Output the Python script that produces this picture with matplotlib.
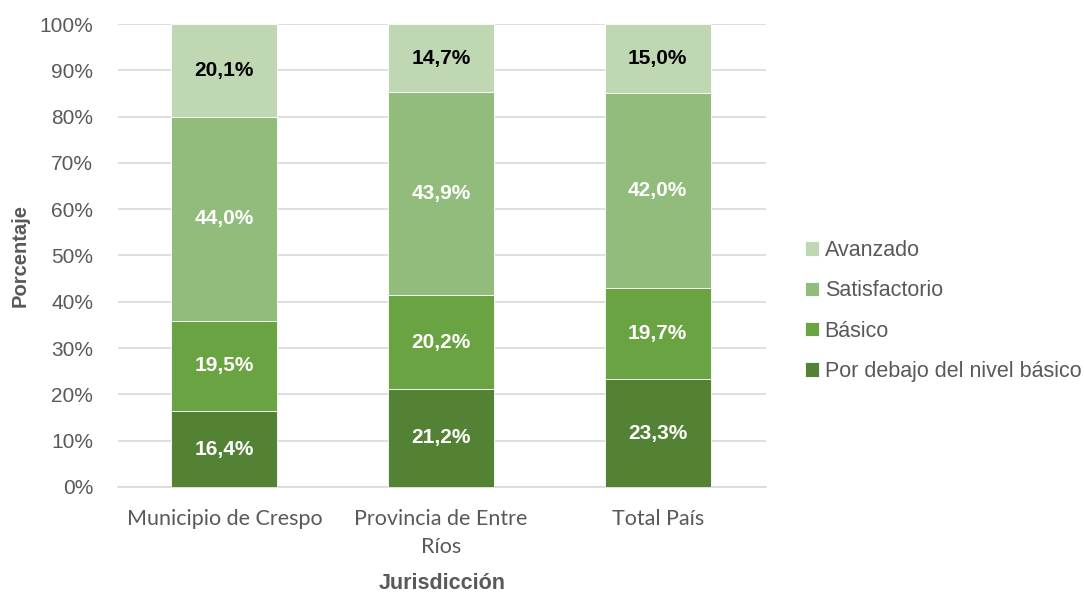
import matplotlib.pyplot as plt
import numpy as np

categories = ['Municipio de Crespo', 'Provincia de Entre\nRíos', 'Total País']
niveles = ['Por debajo del nivel básico', 'Básico', 'Satisfactorio', 'Avanzado']
por_debajo = [16.4, 21.2, 23.3]
basico = [19.5, 20.2, 19.7]
satisfactorio = [44.0, 43.9, 42.0]
avanzado = [20.1, 14.7, 15.0]

series = [por_debajo, basico, satisfactorio, avanzado]
colors = ['#548235', '#6AA341', '#92BC7B', '#C0D7B4']
label_colors = ['white', 'white', 'white', 'black']

plt.rcParams['font.family'] = ['Liberation Sans', 'DejaVu Sans']

fig = plt.figure(figsize=(10.84, 5.93), dpi=100)
ax = fig.add_axes([0.109, 0.1788, 0.5976, 0.7807])

x = np.arange(len(categories))
bottom = np.zeros(len(categories))
for vals, col, lc, name in zip(series, colors, label_colors, niveles):
    vals = np.array(vals)
    ax.bar(x, vals, 0.49, bottom=bottom, color=col, label=name,
           edgecolor='white', linewidth=0.6, zorder=3)
    for xi, b, v in zip(x, bottom, vals):
        ax.text(xi, b + v / 2, ('%.1f%%' % v).replace('.', ','),
                ha='center', va='center', color=lc, fontsize=15,
                fontweight='bold', zorder=4)
    bottom += vals

ax.set_xlim(-0.49, 2.5)
ax.set_ylim(0, 100)
ax.set_yticks(np.arange(0, 101, 10))
ax.set_yticklabels(['%d%%' % t for t in range(0, 101, 10)], fontsize=15, color='#595959')
ax.set_xticks(x)
ax.set_xticklabels(categories, fontsize=15.5, color='#595959',
                   family=['Lato', 'DejaVu Sans'], linespacing=1.5)
ax.tick_params(axis='x', length=0, pad=16)
ax.tick_params(axis='y', length=0, pad=18)
ax.grid(axis='y', color='#D9D9D9', linewidth=1.2, zorder=0)
for s in ['top', 'right', 'left']:
    ax.spines[s].set_visible(False)
ax.spines['bottom'].set_color('#D9D9D9')
ax.spines['bottom'].set_linewidth(1.2)

ax.set_ylabel('Porcentaje', fontsize=14.5, fontweight='bold', color='#595959')
ax.set_xlabel('Jurisdicción', fontsize=15.5, fontweight='bold', color='#595959')
ax.yaxis.set_label_coords(-0.137, 0.5)
ax.xaxis.set_label_coords(0.5, -0.185)

handles, labels = ax.get_legend_handles_labels()
fig.legend(handles[::-1], labels[::-1], loc='center left', bbox_to_anchor=(0.725, 0.4755),
           frameon=False, fontsize=15.5, labelcolor='#595959', handlelength=0.65,
           handleheight=0.65, handletextpad=0.25, labelspacing=0.9)

fig.savefig('out.png', dpi=100)
